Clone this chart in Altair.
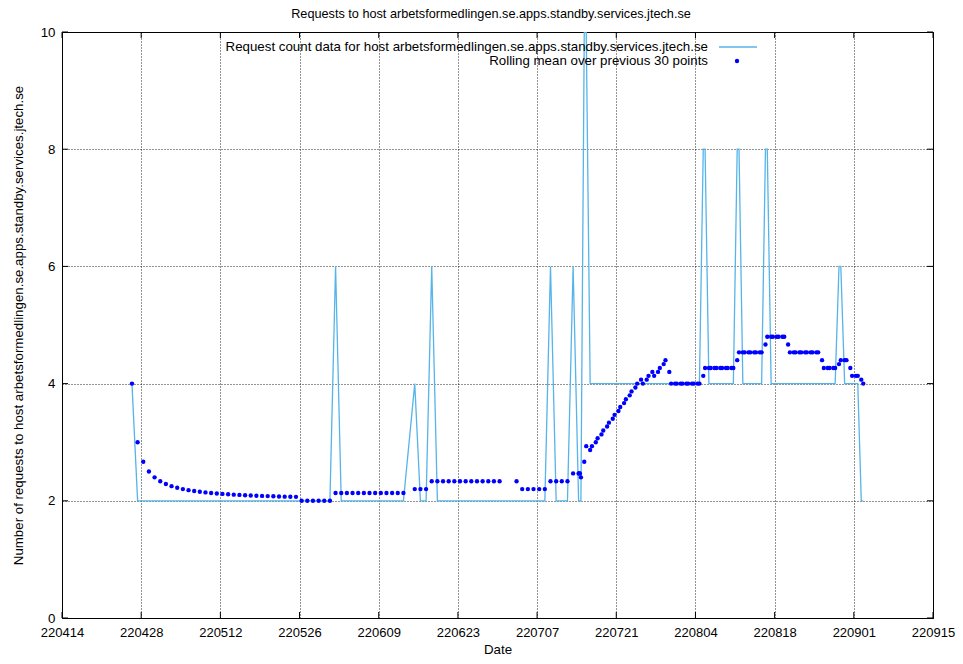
import altair as alt
import pandas as pd

# ---- data (x = days since 2022-04-14) ----
day = [
    12.37, 13.37, 14.37, 15.37, 16.37, 17.37, 18.37, 19.37, 20.37, 21.37,
    22.37, 23.37, 24.37, 25.37, 26.37, 27.37, 28.37, 29.37, 30.37, 31.37,
    32.37, 33.37, 34.37, 35.37, 36.37, 37.37, 38.37, 39.37, 40.37, 41.37,
    42.37, 43.37, 44.37, 45.37, 46.37, 47.37, 48.37, 49.37, 50.37, 51.37,
    52.37, 53.37, 54.37, 55.37, 56.37, 57.37, 58.37, 59.37, 60.37,
    62.37, 63.37, 64.37, 65.37, 66.37, 67.37, 68.37, 69.37, 70.37, 71.37,
    72.37, 73.37, 74.37, 75.37, 76.37, 77.37,
    80.37, 81.37, 82.37, 83.37, 84.37, 85.37, 86.37, 87.37, 88.37, 89.37, 90.37,
    91.34, 91.45, 91.57, 91.75,
    92.34, 92.69,
    93.38, 93.70, 94.38, 94.70, 95.38, 95.70, 96.38, 96.70, 97.38, 97.70,
    98.38, 98.70, 99.38, 99.70, 100.38, 100.70, 101.38, 101.70, 102.38, 102.70,
    103.38, 103.70, 104.38, 104.70, 105.38, 105.70, 106.38, 106.70, 107.38, 107.70,
    108.38, 108.70, 109.38, 109.70, 110.38, 110.70, 111.38, 111.70, 112.38, 112.70,
    113.38, 113.70, 114.38, 114.70, 115.38, 115.70, 116.38, 116.70, 117.38, 117.70,
    118.38, 118.70, 119.38, 119.70, 120.38, 120.70, 121.38, 121.70, 122.38, 122.70,
    123.38, 123.70, 124.38, 124.70, 125.38, 125.70, 126.38, 126.70, 127.38, 127.70,
    128.38, 128.70, 129.38, 129.70, 130.38, 130.70, 131.38, 131.70, 132.38, 132.70,
    133.38, 133.70, 134.38, 134.70, 135.38, 135.70, 136.38, 136.70, 137.38, 137.70,
    138.38, 138.70, 139.38, 139.70, 140.38, 140.70, 141.32, 141.67,
]

requests = [
    4, 2, 2, 2, 2, 2, 2, 2, 2, 2,
    2, 2, 2, 2, 2, 2, 2, 2, 2, 2,
    2, 2, 2, 2, 2, 2, 2, 2, 2, 2,
    2, 2, 2, 2, 2, 2, 6, 2, 2, 2,
    2, 2, 2, 2, 2, 2, 2, 2, 2,
    4, 2, 2, 6, 2, 2, 2, 2, 2, 2,
    2, 2, 2, 2, 2, 2,
    2, 2, 2, 2, 2, 2, 6, 2, 2, 2, 6,
    2, 2, 2, 2,
    10, 10,
    4, 4, 4, 4, 4, 4, 4, 4, 4, 4,
    4, 4, 4, 4, 4, 4, 4, 4, 4, 4,
    4, 4, 4, 4, 4, 4, 4, 4, 4, 4,
    4, 4, 4, 4, 4, 4, 4, 4, 4, 4,
    8, 8, 4, 4, 4, 4, 4, 4, 4, 4,
    4, 4, 8, 8, 4, 4, 4, 4, 4, 4,
    4, 4, 8, 8, 4, 4, 4, 4, 4, 4,
    4, 4, 4, 4, 4, 4, 4, 4, 4, 4,
    4, 4, 4, 4, 4, 4, 4, 4, 6, 6,
    4, 4, 4, 4, 4, 4, 2, 2,
]

rolling_mean = [
    4.0, 3.0, 2.667, 2.5, 2.4, 2.333, 2.286, 2.25, 2.222, 2.2,
    2.182, 2.167, 2.154, 2.143, 2.133, 2.125, 2.118, 2.111, 2.105, 2.1,
    2.095, 2.091, 2.087, 2.083, 2.08, 2.077, 2.074, 2.071, 2.069, 2.067,
    2.0, 2.0, 2.0, 2.0, 2.0, 2.0, 2.133, 2.133, 2.133, 2.133,
    2.133, 2.133, 2.133, 2.133, 2.133, 2.133, 2.133, 2.133, 2.133,
    2.2, 2.2, 2.2, 2.333, 2.333, 2.333, 2.333, 2.333, 2.333, 2.333,
    2.333, 2.333, 2.333, 2.333, 2.333, 2.333,
    2.333, 2.2, 2.2, 2.2, 2.2, 2.2, 2.333, 2.333, 2.333, 2.333, 2.467,
    2.467, 2.467, 2.467, 2.4,
    2.667, 2.933,
    2.867, 2.933, 3.0, 3.067, 3.133, 3.2, 3.267, 3.333, 3.4, 3.467,
    3.533, 3.6, 3.667, 3.733, 3.8, 3.867, 3.933, 4.0, 4.067, 4.0,
    4.067, 4.133, 4.2, 4.133, 4.2, 4.267, 4.333, 4.4, 4.2, 4.0,
    4.0, 4.0, 4.0, 4.0, 4.0, 4.0, 4.0, 4.0, 4.0, 4.0,
    4.133, 4.267, 4.267, 4.267, 4.267, 4.267, 4.267, 4.267, 4.267, 4.267,
    4.267, 4.267, 4.4, 4.533, 4.533, 4.533, 4.533, 4.533, 4.533, 4.533,
    4.533, 4.533, 4.667, 4.8, 4.8, 4.8, 4.8, 4.8, 4.8, 4.8,
    4.667, 4.533, 4.533, 4.533, 4.533, 4.533, 4.533, 4.533, 4.533, 4.533,
    4.533, 4.533, 4.4, 4.267, 4.267, 4.267, 4.267, 4.267, 4.333, 4.4,
    4.4, 4.4, 4.267, 4.133, 4.133, 4.133, 4.067, 4.0,
]

tick_days = [0, 14, 28, 42, 56, 70, 84, 98, 112, 126, 140, 154]
tick_labels = ["220414", "220428", "220512", "220526", "220609", "220623",
               "220707", "220721", "220804", "220818", "220901", "220915"]
y_ticks = [0, 2, 4, 6, 8, 10]

HOST = "arbetsformedlingen.se.apps.standby.services.jtech.se"
TITLE = "Requests to host " + HOST
Y_TITLE = "Number of requests to host " + HOST
LEGEND_1 = "Request count data for host " + HOST
LEGEND_2 = "Rolling mean over previous 30 points"

LINE_COLOR = "#56B4E9"
DOT_COLOR = "#0000FF"
FONT = "Liberation Sans"
FS = 13.3
W, H = 871, 586

df = pd.DataFrame({"day": day, "requests": requests, "mean": rolling_mean})

label_expr = "[" + ",".join("'%s'" % s for s in tick_labels) + "][round(datum.value / 14)]"

x_scale = alt.Scale(domain=[tick_days[0], tick_days[-1]], nice=False, zero=False)
y_scale = alt.Scale(domain=[y_ticks[0], y_ticks[-1]], nice=False, zero=False)

common_axis = dict(
    grid=True, gridColor="#000000", gridDash=[1, 2], gridWidth=1, gridOpacity=0.85,
    ticks=False, domain=False,
    labelFont=FONT, labelColor="#000000",
    titleFont=FONT, titleFontSize=FS, titleFontWeight="normal", titleColor="#000000",
)

x_axis = alt.Axis(values=tick_days, labelExpr=label_expr, title="Date", labelFlush=False,
                  labelOverlap=False, labelPadding=8, labelFontSize=13,
                  titleX=W / 2, titleY=31, titleAlign="center", titleBaseline="middle",
                  **common_axis)
y_axis = alt.Axis(values=y_ticks, title=Y_TITLE, titleAngle=270, titleX=-44, titleY=H / 2,
                  titleAlign="center", titleBaseline="middle", labelOverlap=False,
                  labelPadding=7, labelFontSize=FS, **common_axis)

X = alt.X("day:Q", scale=x_scale, axis=x_axis)
base = alt.Chart(df)
line = base.mark_line(color=LINE_COLOR, strokeWidth=1.3, clip=True).encode(
    x=X, y=alt.Y("requests:Q", scale=y_scale, axis=y_axis),
)
dots = base.mark_circle(color=DOT_COLOR, size=19, opacity=1).encode(
    x=X, y=alt.Y("mean:Q", scale=y_scale, axis=y_axis),
)

xt = pd.DataFrame({"day": tick_days})
yt = pd.DataFrame({"requests": y_ticks})
tick_style = dict(color="#000000", strokeWidth=1)
xt_bottom = alt.Chart(xt).mark_rule(**tick_style).encode(
    x=X, y=alt.value(H), y2=alt.value(H - 6))
xt_top = alt.Chart(xt).mark_rule(**tick_style).encode(
    x=X, y=alt.value(0), y2=alt.value(6))
yt_left = alt.Chart(yt).mark_rule(**tick_style).encode(
    y=alt.Y("requests:Q", scale=y_scale, axis=y_axis), x=alt.value(0), x2=alt.value(6))
yt_right = alt.Chart(yt).mark_rule(**tick_style).encode(
    y=alt.Y("requests:Q", scale=y_scale, axis=y_axis), x=alt.value(W), x2=alt.value(W - 6))

one = pd.DataFrame({"k": [0]})
title_text = alt.Chart(one).mark_text(align="center", baseline="middle", font=FONT,
                                      fontSize=12.7, color="#000000", text=TITLE).encode(
    x=alt.value(429), y=alt.value(-18))
leg_text1 = alt.Chart(one).mark_text(align="right", baseline="middle", font=FONT, fontSize=FS,
                                     color="#000000", text=LEGEND_1).encode(
    x=alt.value(646), y=alt.value(15))
leg_line = alt.Chart(one).mark_rule(color=LINE_COLOR, strokeWidth=1.3).encode(
    x=alt.value(657), x2=alt.value(695), y=alt.value(15))
leg_text2 = alt.Chart(one).mark_text(align="right", baseline="middle", font=FONT, fontSize=FS,
                                     color="#000000", text=LEGEND_2).encode(
    x=alt.value(646), y=alt.value(29))
leg_dot = alt.Chart(one).mark_circle(color=DOT_COLOR, size=19, opacity=1).encode(
    x=alt.value(675), y=alt.value(29))

chart = alt.layer(
    line, dots, xt_bottom, xt_top, yt_left, yt_right,
    title_text, leg_text1, leg_line, leg_text2, leg_dot,
).properties(
    width=W, height=H,
    padding={"left": 54, "top": 24, "right": 22, "bottom": 38},
    autosize=alt.AutoSizeParams(type="none"),
    background="white",
).configure_view(stroke="#000000", strokeWidth=1)

chart.save("out.html", embed_options={"renderer": "svg", "actions": False})
